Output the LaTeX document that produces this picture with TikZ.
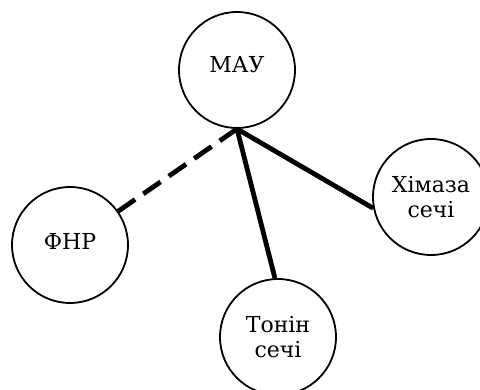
\documentclass[tikz,border=0pt]{standalone}
\usepackage{fontspec}
\setmainfont{DejaVu Serif}

\begin{document}
\begin{tikzpicture} [x=1pt,y=-1pt]
\tikzset{enz/.style={draw,circle,line width=1.8pt,minimum size=116pt,inner sep=0pt,align=center,font=\fontsize{22}{25}\selectfont}}
\tikzset{link/.style={line width=4.8pt}}
\useasboundingbox (0,0) rectangle (480,390);

\node [enz,text depth=11pt] (mau) at (237,70) {МАУ};
\node [enz,text depth=8pt] (fnr) at (70,245) {ФНР};
\node [enz] (ton) at (278,337) {Тонін\\сечі};
\node [enz] (him) at (431,197) {Хімаза\\сечі};

\coordinate (hub) at (mau.south);

\draw [link,dash pattern=on 21pt off 10pt] (hub)--(fnr.35) ;
\draw [link] (hub)--(ton.93) ;
\draw [link] (hub)--(him.191) ;

\end{tikzpicture}
\end{document}
